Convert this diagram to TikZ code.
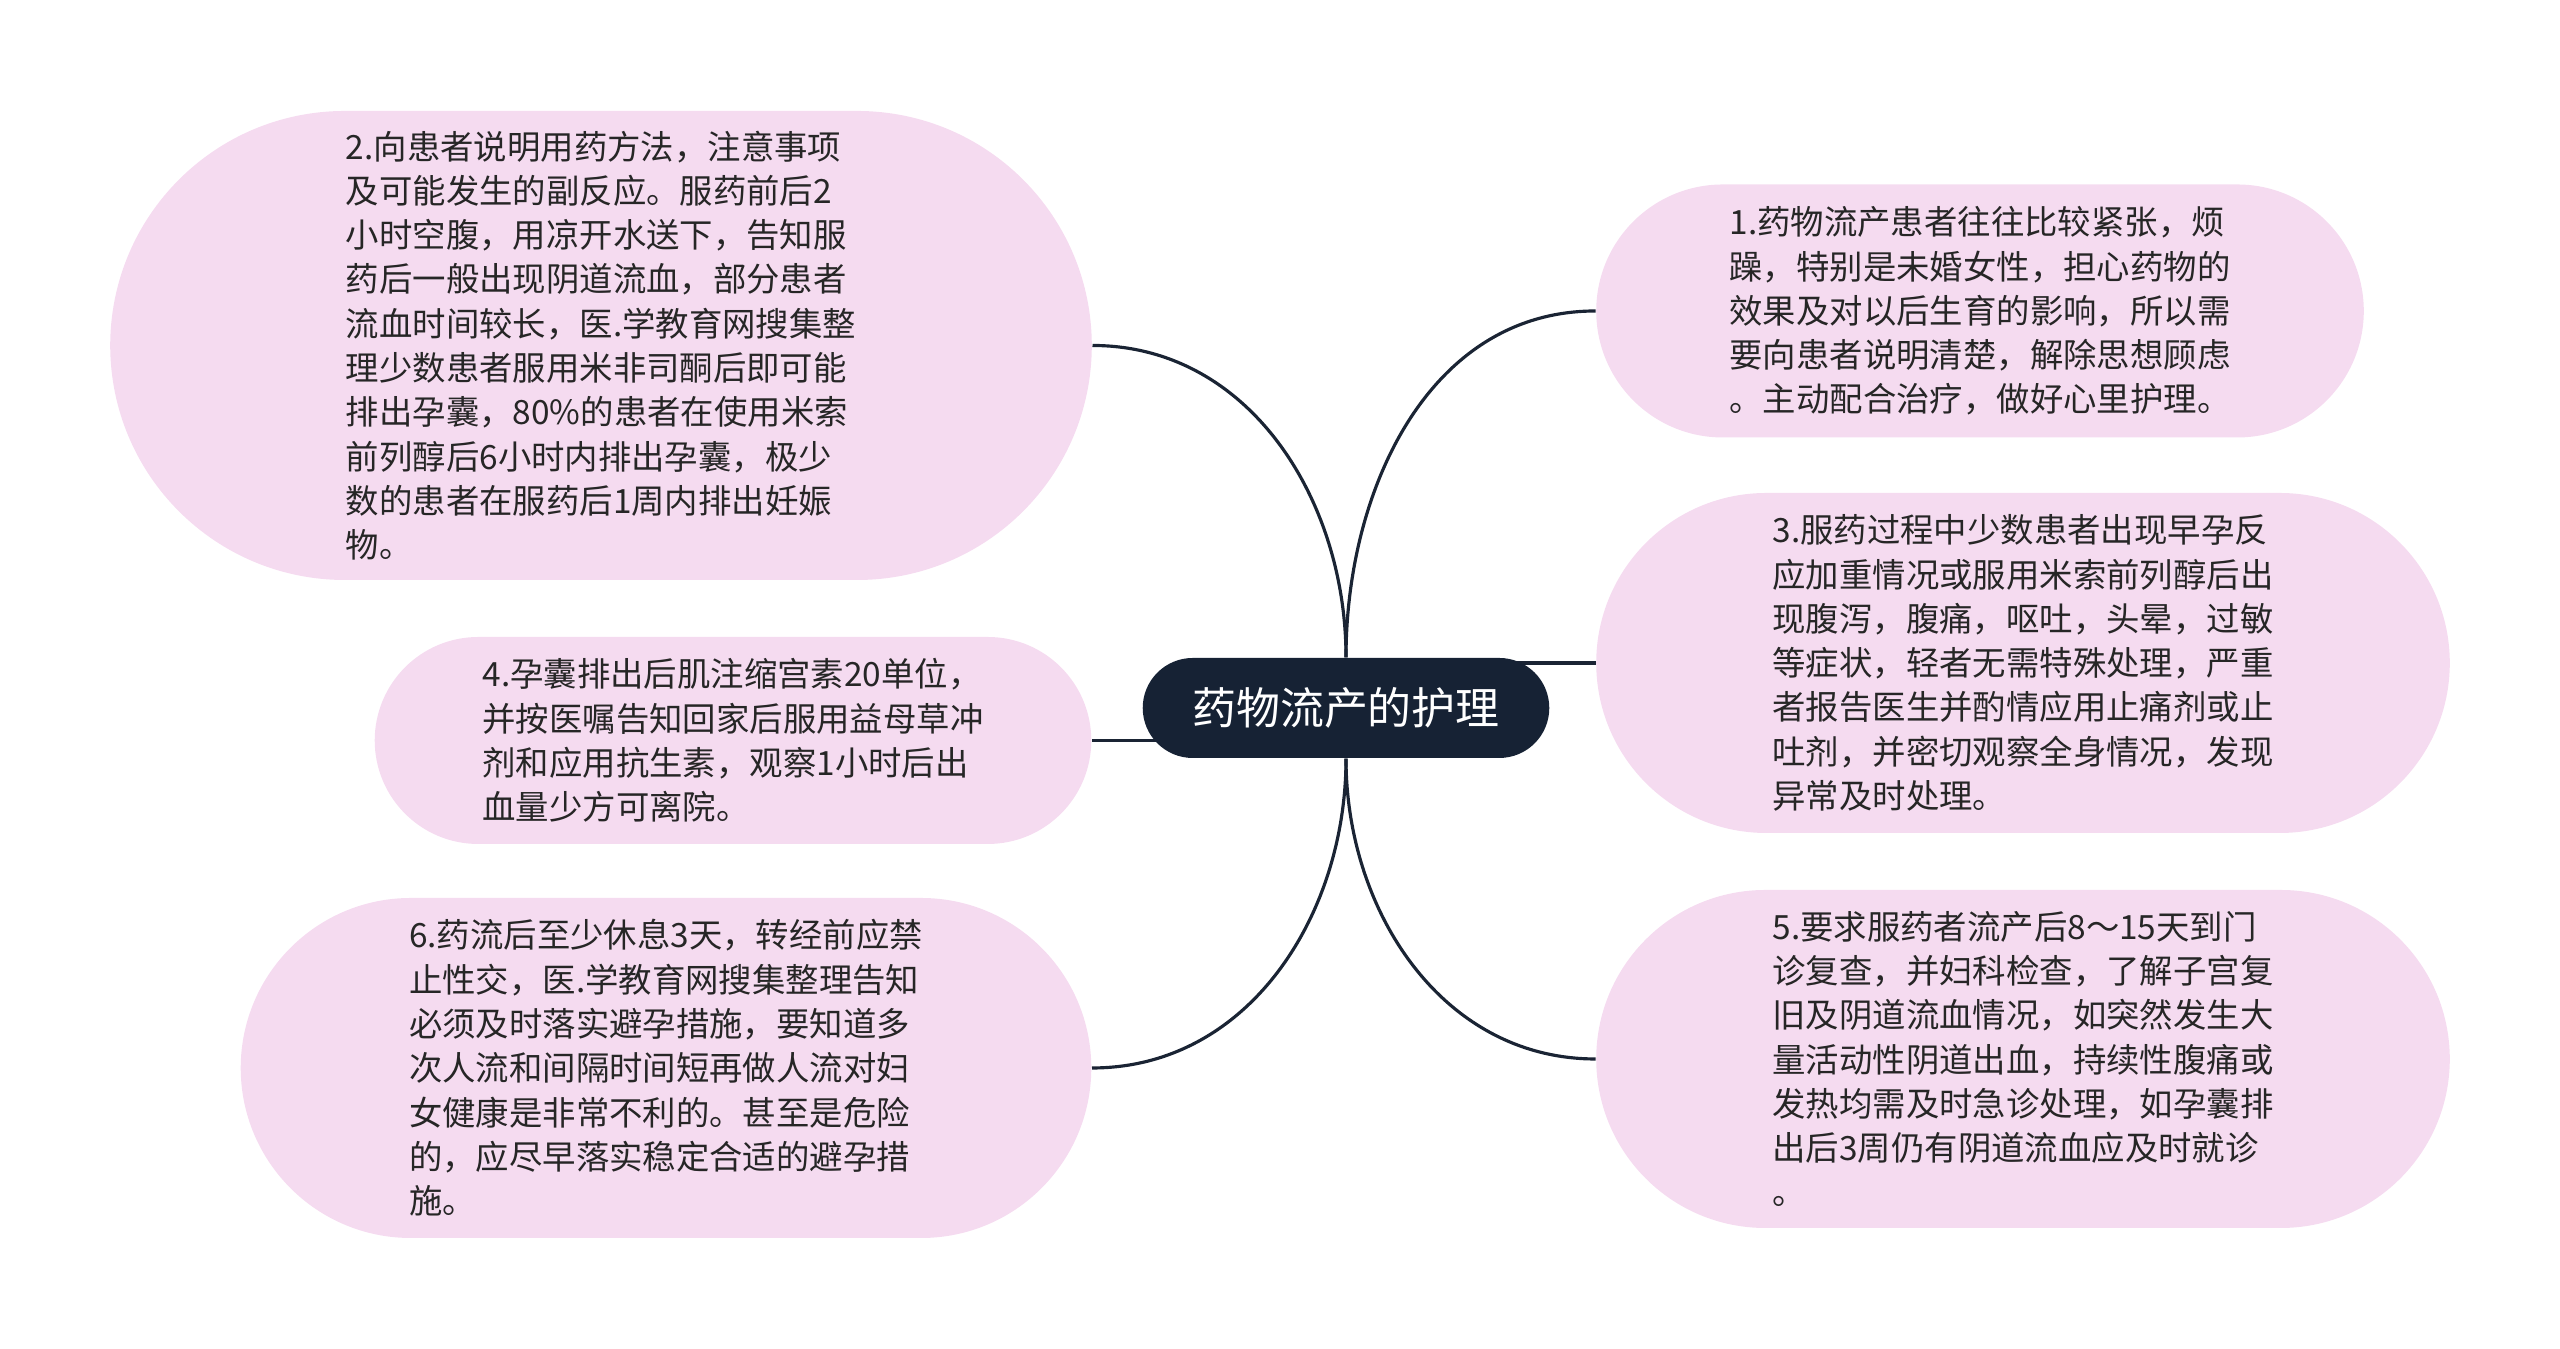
\documentclass[tikz,border=0pt]{standalone}
\usepackage{fontspec}
\usepackage{xcolor}
\usepackage{tikz}
\usetikzlibrary{shapes,backgrounds}
\newfontfamily\cjk{Noto Sans CJK SC}
\definecolor{bubblepink}{RGB}{245,219,240}
\definecolor{topicnavy}{RGB}{22,34,52}
\definecolor{linknavy}{RGB}{26,36,52}
\definecolor{textgrey}{RGB}{38,38,38}
\tikzstyle{topic} = [rounded rectangle, fill=topicnavy, text=white,
font=\cjk\fontsize{12.5pt}{15pt}\selectfont, minimum width=4.3cm, minimum height=1cm]
\tikzstyle{bubble} = [rounded rectangle, fill=bubblepink, text=textgrey, align=left,
font=\cjk\fontsize{9.5pt}{12.6pt}\selectfont]
\tikzstyle{link} = [draw, linknavy, line width=0.9pt]

\begin{document}
\begin{tikzpicture}[node distance = 7cm]
	\useasboundingbox (0,0) rectangle (25.6,13.49);
	\node [topic] at (13.46,6.41) (nursing) {药物流产的护理};
	
	
	\node [bubble, left of=nursing, node distance=7.45cm, yshift=3.625cm, minimum width=10.05cm, minimum height=4.69cm] (usage) {2.向患者说明用药方法，注意事项\\ 及可能发生的副反应。服药前后2\\ 小时空腹，用凉开水送下，告知服\\ 药后一般出现阴道流血，部分患者\\ 流血时间较长，医.学教育网搜集整\\ 理少数患者服用米非司酮后即可能\\ 排出孕囊，80\%的患者在使用米索\\ 前列醇后6小时内排出孕囊，极少\\ 数的患者在服药后1周内排出妊娠\\ 物。};
	\node [bubble, left of=nursing, node distance=6.13cm, yshift=-0.325cm, minimum width=7.4cm, minimum height=2.07cm] (afterexpel) {4.孕囊排出后肌注缩宫素20单位，\\ 并按医嘱告知回家后服用益母草冲\\ 剂和应用抗生素，观察1小时后出\\ 血量少方可离院。};
	\node [bubble, left of=nursing, node distance=6.8cm, yshift=-3.6cm, minimum width=8.74cm, minimum height=3.4cm] (contraception) {6.药流后至少休息3天，转经前应禁\\ 止性交，医.学教育网搜集整理告知\\ 必须及时落实避孕措施，要知道多\\ 次人流和间隔时间短再做人流对妇\\ 女健康是非常不利的。甚至是危险\\ 的，应尽早落实稳定合适的避孕措\\ 施。};
	
	
	\node [bubble, right of=nursing, node distance=6.34cm, yshift=3.97cm, minimum width=7.91cm, minimum height=2.53cm] (mood) {1.药物流产患者往往比较紧张，烦\\ 躁，特别是未婚女性，担心药物的\\ 效果及对以后生育的影响，所以需\\ 要向患者说明清楚，解除思想顾虑\\ 。主动配合治疗，做好心里护理。};
	\node [bubble, right of=nursing, node distance=6.77cm, yshift=0.45cm, minimum width=8.77cm, minimum height=3.4cm] (sideeffect) {3.服药过程中少数患者出现早孕反\\ 应加重情况或服用米索前列醇后出\\ 现腹泻，腹痛，呕吐，头晕，过敏\\ 等症状，轻者无需特殊处理，严重\\ 者报告医生并酌情应用止痛剂或止\\ 吐剂，并密切观察全身情况，发现\\ 异常及时处理。};
	\node [bubble, right of=nursing, node distance=6.77cm, yshift=-3.51cm, minimum width=8.77cm, minimum height=3.38cm] (followup) {5.要求服药者流产后8～15天到门\\ 诊复查，并妇科检查，了解子宫复\\ 旧及阴道流血情况，如突然发生大\\ 量活动性阴道出血，持续性腹痛或\\ 发热均需及时急诊处理，如孕囊排\\ 出后3周仍有阴道流血应及时就诊\\ 。};
	
	
	\begin{scope}[on background layer]
	\path [link] (nursing.north) to[out=90, in=0] (usage.east);
	\path [link] (nursing.north) to[out=90, in=180] (mood.west);
	\path [link] (sideeffect.west) -- (sideeffect.west -| nursing.center);
	\path [link] (afterexpel.east) -- (afterexpel.east -| nursing.center);
	\path [link] (nursing.south) to[out=-90, in=0] (contraception.east);
	\path [link] (nursing.south) to[out=-90, in=180] (followup.west);
	\end{scope}
\end{tikzpicture}
\end{document}
